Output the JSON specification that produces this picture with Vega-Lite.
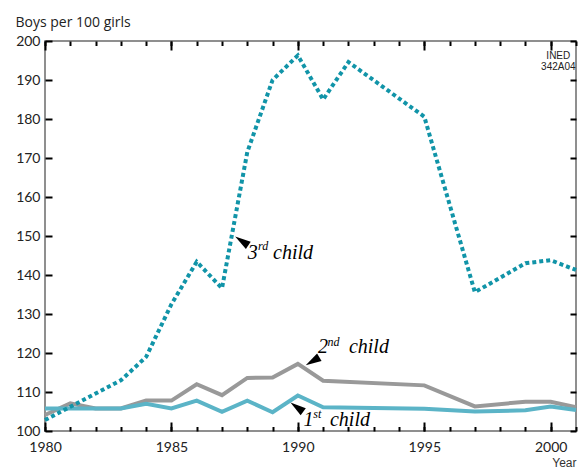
{
  "$schema": "https://vega.github.io/schema/vega-lite/v6.json",
  "width": 531,
  "height": 390,
  "autosize": "none",
  "padding": {"left": 45, "top": 41, "right": 3, "bottom": 37},
  "background": "white",
  "config": {
    "view": {"stroke": "#6b6b6b", "strokeWidth": 1.5},
    "axis": {
      "domain": false,
      "labelFont": "Lato",
      "labelFontSize": 14,
      "labelColor": "#222222",
      "titleFont": "Lato",
      "titleFontSize": 14,
      "titleFontWeight": "normal",
      "titleColor": "#222222",
      "grid": false
    }
  },
  "datasets": {
    "series": [
      {"series": "2nd", "year": 1980, "value": 104.1},
      {"series": "2nd", "year": 1981, "value": 107.1},
      {"series": "2nd", "year": 1982, "value": 105.8},
      {"series": "2nd", "year": 1983, "value": 105.8},
      {"series": "2nd", "year": 1984, "value": 107.8},
      {"series": "2nd", "year": 1985, "value": 107.8},
      {"series": "2nd", "year": 1986, "value": 112.0},
      {"series": "2nd", "year": 1987, "value": 109.2},
      {"series": "2nd", "year": 1988, "value": 113.6},
      {"series": "2nd", "year": 1989, "value": 113.7},
      {"series": "2nd", "year": 1990, "value": 117.2},
      {"series": "2nd", "year": 1991, "value": 112.9},
      {"series": "2nd", "year": 1995, "value": 111.7},
      {"series": "2nd", "year": 1997, "value": 106.3},
      {"series": "2nd", "year": 1999, "value": 107.5},
      {"series": "2nd", "year": 2000, "value": 107.5},
      {"series": "2nd", "year": 2001, "value": 106.1},
      {"series": "1st", "year": 1980, "value": 105.8},
      {"series": "1st", "year": 1981, "value": 105.8},
      {"series": "1st", "year": 1982, "value": 105.8},
      {"series": "1st", "year": 1983, "value": 105.8},
      {"series": "1st", "year": 1984, "value": 107.0},
      {"series": "1st", "year": 1985, "value": 105.8},
      {"series": "1st", "year": 1986, "value": 107.8},
      {"series": "1st", "year": 1987, "value": 104.9},
      {"series": "1st", "year": 1988, "value": 107.8},
      {"series": "1st", "year": 1989, "value": 104.8},
      {"series": "1st", "year": 1990, "value": 109.1},
      {"series": "1st", "year": 1991, "value": 106.1},
      {"series": "1st", "year": 1995, "value": 105.7},
      {"series": "1st", "year": 1997, "value": 105.0},
      {"series": "1st", "year": 1999, "value": 105.3},
      {"series": "1st", "year": 2000, "value": 106.3},
      {"series": "1st", "year": 2001, "value": 105.4},
      {"series": "3rd", "year": 1980, "value": 102.8},
      {"series": "3rd", "year": 1983, "value": 113.0},
      {"series": "3rd", "year": 1984, "value": 119.0},
      {"series": "3rd", "year": 1985, "value": 132.5},
      {"series": "3rd", "year": 1986, "value": 143.4},
      {"series": "3rd", "year": 1987, "value": 136.6},
      {"series": "3rd", "year": 1988, "value": 171.5},
      {"series": "3rd", "year": 1989, "value": 190.0},
      {"series": "3rd", "year": 1990, "value": 196.3},
      {"series": "3rd", "year": 1991, "value": 185.0},
      {"series": "3rd", "year": 1992, "value": 194.6},
      {"series": "3rd", "year": 1995, "value": 180.6},
      {"series": "3rd", "year": 1997, "value": 135.6},
      {"series": "3rd", "year": 1999, "value": 143.0},
      {"series": "3rd", "year": 2000, "value": 143.8},
      {"series": "3rd", "year": 2001, "value": 141.3}
    ],
    "arrows": [
      {"label": "3rd", "year": 1987.78, "value": 148.74, "angle": 303.7},
      {"label": "2nd", "year": 1990.58, "value": 117.9, "angle": 239.3},
      {"label": "1st", "year": 1989.96, "value": 106.13, "angle": 306.2}
    ],
    "labels": [
      {"kind": "main", "year": 1988.02, "value": 144.03, "text": "3"},
      {"kind": "sup", "year": 1988.42, "value": 146.41, "text": "rd"},
      {"kind": "main", "year": 1989.02, "value": 144.03, "text": "child"},
      {"kind": "main", "year": 1990.8, "value": 119.92, "text": "2"},
      {"kind": "sup", "year": 1991.17, "value": 121.79, "text": "nd"},
      {"kind": "main", "year": 1992.02, "value": 119.92, "text": "child"},
      {"kind": "main", "year": 1990.22, "value": 101.28, "text": "1"},
      {"kind": "sup", "year": 1990.61, "value": 103.33, "text": "st"},
      {"kind": "main", "year": 1991.27, "value": 101.28, "text": "child"}
    ],
    "credit": [
      {"year": 2000.3, "value": 197.56, "text": "INED\n342A04"}
    ]
  },
  "layer": [
    {
      "data": {"name": "series"},
      "transform": [{"filter": "datum.series === '2nd'"}],
      "mark": {"type": "line", "color": "#999999", "strokeWidth": 4},
      "encoding": {
        "x": {"field": "year", "type": "quantitative",
              "scale": {"domain": [1980, 2001], "nice": false, "zero": false},
              "axis": {"orient": "bottom", "values": [1980, 1985, 1990, 1995, 2000], "format": "d",
                       "ticks": false, "labelPadding": 9, "labelFlush": false,
                       "title": "Year", "titleX": 531, "titleY": 35, "titleAlign": "right",
                       "titleBaseline": "alphabetic", "titleFont": "Liberation Sans", "titleFontSize": 12, "titleColor": "#333333"}},
        "y": {"field": "value", "type": "quantitative",
              "scale": {"domain": [100, 200], "nice": false, "zero": false},
              "axis": {"orient": "left", "values": [100, 110, 120, 130, 140, 150, 160, 170, 180, 190, 200],
                       "ticks": false, "labelPadding": 5, "labelFlush": false,
                       "title": "Boys per 100 girls", "titleFont": "Open Sans", "titleAngle": 0, "titleX": -30, "titleY": -15,
                       "titleAlign": "left", "titleBaseline": "alphabetic"}}
      }
    },
    {
      "data": {"name": "series"},
      "transform": [{"filter": "datum.series === '1st'"}],
      "mark": {"type": "line", "color": "#5bb4c7", "strokeWidth": 4},
      "encoding": {
        "x": {"field": "year", "type": "quantitative",
              "scale": {"domain": [1980, 2001], "nice": false, "zero": false},
              "axis": {"orient": "bottom", "values": [1980, 1985, 1990, 1995, 2000], "ticks": true, "tickColor": "#000000", "tickWidth": 2,
                       "tickSize": 9, "offset": -9, "labels": false, "title": null}},
        "y": {"field": "value", "type": "quantitative",
              "scale": {"domain": [100, 200], "nice": false, "zero": false},
              "axis": {"orient": "left", "values": [100, 110, 120, 130, 140, 150, 160, 170, 180, 190, 200], "ticks": true, "tickColor": "#000000", "tickWidth": 2,
                       "tickSize": 7, "offset": -7, "labels": false, "title": null}}
      }
    },
    {
      "data": {"name": "series"},
      "transform": [{"filter": "datum.series === '3rd'"}],
      "mark": {"type": "line", "color": "#1194a8", "strokeWidth": 4, "strokeDash": [4, 3]},
      "encoding": {
        "x": {"field": "year", "type": "quantitative",
              "scale": {"domain": [1980, 2001], "nice": false, "zero": false},
              "axis": {"orient": "bottom", "values": [1980, 1981, 1982, 1983, 1984, 1985, 1986, 1987, 1988, 1989, 1990, 1991, 1992, 1993, 1994, 1995, 1996, 1997, 1998, 1999, 2000, 2001], "ticks": true, "tickColor": "#000000", "tickWidth": 2,
                       "tickSize": 4.5, "offset": -4.5, "labels": false, "title": null}},
        "y": {"field": "value", "type": "quantitative",
              "scale": {"domain": [100, 200], "nice": false, "zero": false},
              "axis": {"orient": "right", "values": [100, 110, 120, 130, 140, 150, 160, 170, 180, 190, 200], "ticks": true, "tickColor": "#000000", "tickWidth": 2,
                       "tickSize": 6, "offset": -6, "labels": false, "title": null}}
      }
    },
    {
      "data": {"name": "arrows"},
      "mark": {"type": "point", "shape": "M0,-1L0.55,1L-0.55,1Z", "filled": true, "color": "#000000", "opacity": 1, "size": 250, "strokeWidth": 0},
      "encoding": {
        "x": {"field": "year", "type": "quantitative",
              "scale": {"domain": [1980, 2001], "nice": false, "zero": false},
              "axis": {"orient": "top", "values": [1980, 1985, 1990, 1995, 2000], "ticks": true, "tickColor": "#000000", "tickWidth": 2,
                       "tickSize": 9, "offset": -9, "labels": false, "title": null}},
        "y": {"field": "value", "type": "quantitative",
              "scale": {"domain": [100, 200], "nice": false, "zero": false}, "axis": null},
        "angle": {"field": "angle", "type": "quantitative", "scale": null}
      }
    },
    {
      "data": {"name": "labels"},
      "transform": [{"filter": "datum.kind === 'main'"}],
      "mark": {"type": "text", "align": "left", "baseline": "alphabetic", "font": "Liberation Serif", "fontStyle": "italic", "fontSize": 20, "color": "#000000"},
      "encoding": {
        "x": {"field": "year", "type": "quantitative", "scale": {"domain": [1980, 2001], "nice": false, "zero": false},
              "axis": {"orient": "top", "values": [1980, 1981, 1982, 1983, 1984, 1985, 1986, 1987, 1988, 1989, 1990, 1991, 1992, 1993, 1994, 1995, 1996, 1997, 1998, 1999, 2000, 2001], "ticks": true, "tickColor": "#000000", "tickWidth": 2,
                       "tickSize": 4.5, "offset": -4.5, "labels": false, "title": null}},
        "y": {"field": "value", "type": "quantitative", "scale": {"domain": [100, 200], "nice": false, "zero": false}, "axis": null},
        "text": {"field": "text"}
      }
    },
    {
      "data": {"name": "labels"},
      "transform": [{"filter": "datum.kind === 'sup'"}],
      "mark": {"type": "text", "align": "left", "baseline": "alphabetic", "font": "Liberation Serif", "fontStyle": "italic", "fontSize": 12, "color": "#000000"},
      "encoding": {
        "x": {"field": "year", "type": "quantitative", "scale": {"domain": [1980, 2001], "nice": false, "zero": false}, "axis": null},
        "y": {"field": "value", "type": "quantitative", "scale": {"domain": [100, 200], "nice": false, "zero": false}, "axis": null},
        "text": {"field": "text"}
      }
    },
    {
      "data": {"name": "credit"},
      "mark": {"type": "text", "align": "center", "baseline": "top", "lineBreak": "\n", "lineHeight": 11, "font": "Liberation Sans Narrow, Liberation Sans", "fontSize": 10, "color": "#222222"},
      "encoding": {
        "x": {"field": "year", "type": "quantitative", "scale": {"domain": [1980, 2001], "nice": false, "zero": false}, "axis": null},
        "y": {"field": "value", "type": "quantitative", "scale": {"domain": [100, 200], "nice": false, "zero": false}, "axis": null},
        "text": {"field": "text"}
      }
    }
  ],
  "resolve": {"axis": {"x": "independent", "y": "independent"}}
}
